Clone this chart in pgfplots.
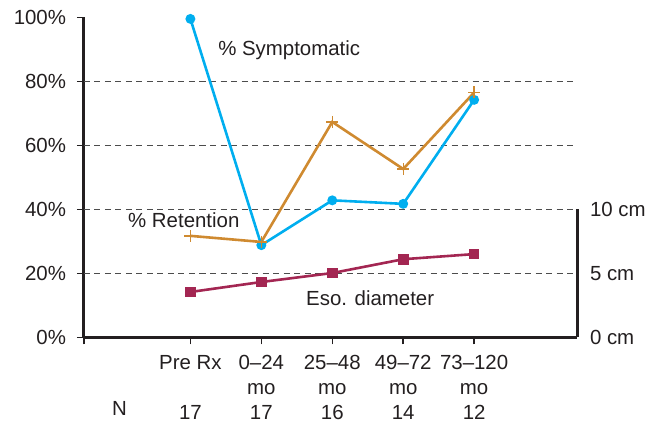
\documentclass[border=0pt]{standalone}
\usepackage{fontspec}
\setmainfont{Liberation Sans}
\usepackage{pgfplots}
\pgfplotsset{compat=1.18}

\definecolor{sympblue}{RGB}{0,174,239}
\definecolor{retorange}{RGB}{207,138,48}
\definecolor{esored}{RGB}{163,38,82}
\definecolor{axisgray}{RGB}{35,31,32}

\begin{document}
\fontsize{20.5}{25}\selectfont
\color{axisgray}
\begin{tikzpicture}
\pgfplotsset{
  base/.style={
    width=493bp, height=320bp, scale only axis,
    xmin=-1.5, xmax=5.45,
    clip=false,
    /pgf/number format/assume math mode=true,
    tick label style={font=\fontsize{20.5}{25}\selectfont},
  }
}
% left axis: percentages
\begin{axis}[base,
  ymin=0, ymax=100,
  axis x line*=bottom, axis y line*=left,
  axis line style={line width=3bp, axisgray},
  tick align=outside, major tick length=7bp,
  tick style={line width=1.5bp, axisgray},
  ytick={0,20,...,100},
  yticklabel={\pgfmathprintnumber{\tick}\%},
  yticklabel style={xshift=-4bp},
  xtick={-1.5,0,1,2,3,4},
  xticklabels={{},{Pre Rx\\\strut\\17},{0–24\\mo\\17},{25–48\\mo\\16},{49–72\\mo\\14},{73–120\\mo\\12}},
  xticklabel style={align=center, anchor=north, yshift=-4bp},
  extra x ticks={-1},
  extra x tick labels={{\strut\\\strut\\N}},
  extra x tick style={major tick length=0pt},
  extra y ticks={20,40,60,80},
  extra y tick labels={},
  extra y tick style={grid=major, major tick length=0pt},
  major grid style={black!70, line width=1.3bp, dash pattern=on 6bp off 4.5bp},
]
\coordinate (O) at (rel axis cs:0,0);
\addplot[sympblue, line width=2.6bp, mark=*, mark size=3.6bp]
  coordinates {(0,99.5) (1,28.8) (2,42.8) (3,41.7) (4,74.2)};
\addplot[retorange, line width=2.6bp, mark=+, mark size=6bp, mark options={line width=1.4bp}]
  coordinates {(0,31.7) (1,29.8) (2,67.3) (3,52.6) (4,76.5)};
\draw[line width=3bp, axisgray] (axis cs:5.45,0) -- (axis cs:5.45,40);
\node[anchor=west, inner sep=0pt] at (axis cs:0.39,89.8) {\% Symptomatic};
\node[anchor=west, inner sep=0pt] at (axis cs:-0.88,36.7) {\% Retention};
\node[anchor=west, inner sep=0pt] at (axis cs:1.63,12.3) {Eso. diameter};
\end{axis}
% right axis: diameter in cm
\begin{axis}[base,
  ymin=0, ymax=25,
  hide x axis,
  axis y line*=right,
  y axis line style={draw=none},
  ytick={0,5,10},
  yticklabel={\pgfmathprintnumber{\tick} cm},
  yticklabel style={xshift=6bp},
  major tick length=0pt,
]
\addplot[esored, line width=2.6bp, mark=square*, mark size=4bp]
  coordinates {(0,3.54) (1,4.32) (2,5.02) (3,6.1) (4,6.5)};
\end{axis}
\pgfresetboundingbox
\path[use as bounding box] (O) ++(-84bp,-92.7bp) rectangle ++(658bp,430bp);
\end{tikzpicture}
\end{document}
